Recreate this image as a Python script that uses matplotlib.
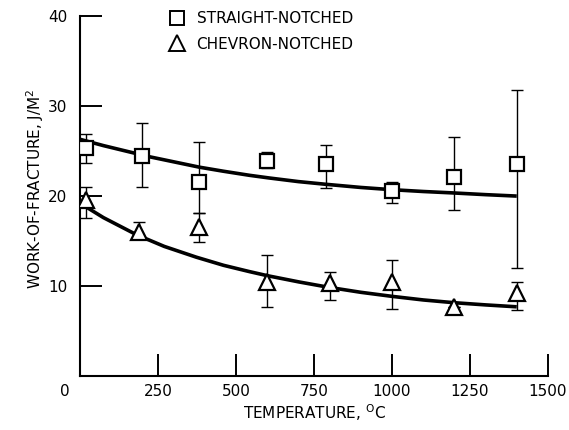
import numpy as np
import matplotlib.pyplot as plt
from matplotlib.lines import Line2D

plt.rcParams['font.family'] = ['Liberation Sans Narrow', 'DejaVu Sans']

# Straight-notched data (temperature, mean, error bar top/bottom)
t_str = np.array([20, 200, 380, 600, 790, 1000, 1200, 1400])
w_str = np.array([25.3, 24.4, 21.5, 23.9, 23.6, 20.5, 22.1, 23.5])
hi_str = np.array([26.9, 28.1, 26.0, 24.9, 25.7, 21.6, 26.5, 31.8])
lo_str = np.array([23.7, 21.0, 18.1, 23.1, 20.9, 19.2, 18.4, 12.0])

# Chevron-notched data
t_chv = np.array([20, 190, 380, 600, 800, 1000, 1200, 1400])
w_chv = np.array([19.6, 16.0, 16.6, 10.5, 10.3, 10.5, 7.7, 9.2])
hi_chv = np.array([21.0, 17.1, 18.1, 13.4, 11.6, 12.9, 7.7, 10.4])
lo_chv = np.array([17.6, 15.3, 14.9, 7.7, 8.5, 7.5, 7.7, 7.3])

# Fitted curves
tc_str = [0, 75, 176, 224, 300, 383, 460, 543, 607, 700, 788, 900, 1000, 1100, 1191, 1300, 1394]
wc_str = [26.3, 25.6, 24.75, 24.35, 23.8, 23.2, 22.75, 22.3, 22.0, 21.6, 21.3, 20.95, 20.7,
          20.5, 20.35, 20.15, 20.0]
tc_chv = [0, 75, 181, 270, 373, 460, 543, 600, 702, 798, 900, 1000, 1100, 1197, 1300, 1394]
wc_chv = [19.2, 17.6, 15.7, 14.4, 13.2, 12.3, 11.6, 11.15, 10.45, 9.85, 9.3, 8.85, 8.45,
          8.15, 7.9, 7.7]

fig = plt.figure(figsize=(5.69, 4.30), dpi=100)
ax = fig.add_axes([80 / 569, 54 / 430, 468 / 569, 360 / 430])

ax.plot(tc_str, wc_str, color='black', lw=2.6, zorder=2)
ax.plot(tc_chv, wc_chv, color='black', lw=2.6, zorder=2)

ax.errorbar(t_str, w_str, yerr=[w_str - lo_str, hi_str - w_str], fmt='none',
            ecolor='black', elinewidth=1.0, capsize=4, capthick=1.0, zorder=1)
ax.errorbar(t_chv, w_chv, yerr=[w_chv - lo_chv, hi_chv - w_chv], fmt='none',
            ecolor='black', elinewidth=1.0, capsize=4, capthick=1.0, zorder=1)

ax.plot(t_str, w_str, 's', ms=10, mfc='white', mec='black', mew=1.6, zorder=3)
ax.plot(t_chv, w_chv, '^', ms=11, mfc='white', mec='black', mew=1.6, zorder=3)

ax.set_xlim(0, 1500)
ax.set_ylim(0, 40)
ax.set_xticks([250, 500, 750, 1000, 1250, 1500])
ax.set_yticks([10, 20, 30, 40])
ax.tick_params(direction='in', length=16, width=1.4, labelsize=11, pad=9)
ax.tick_params(axis='x', pad=6)
ax.annotate('0', xy=(0, 0), xytext=(-11, -6), textcoords='offset points',
            ha='center', va='top', fontsize=11)
for s in ['top', 'right']:
    ax.spines[s].set_visible(False)
for s in ['left', 'bottom']:
    ax.spines[s].set_linewidth(1.5)

ax.set_xlabel('TEMPERATURE, $^{\\mathrm{O}}$C', fontsize=11, labelpad=2)
ax.set_ylabel('WORK-OF-FRACTURE, J/M$^{2}$', fontsize=11)
ax.yaxis.set_label_coords(-0.072, 0.52)

handles = [Line2D([], [], ls='none', marker='s', ms=10, mfc='white', mec='black', mew=1.4),
           Line2D([], [], ls='none', marker='^', ms=11, mfc='white', mec='black', mew=1.4)]
ax.legend(handles, ['STRAIGHT-NOTCHED', 'CHEVRON-NOTCHED'], loc='upper left',
          bbox_to_anchor=(169 / 569, 1 - 11 / 430), bbox_transform=fig.transFigure,
          frameon=False, fontsize=11, handlelength=1.0, handletextpad=0.8,
          borderpad=0, borderaxespad=0, labelspacing=0.7)

fig.savefig('out.png', dpi=100)
